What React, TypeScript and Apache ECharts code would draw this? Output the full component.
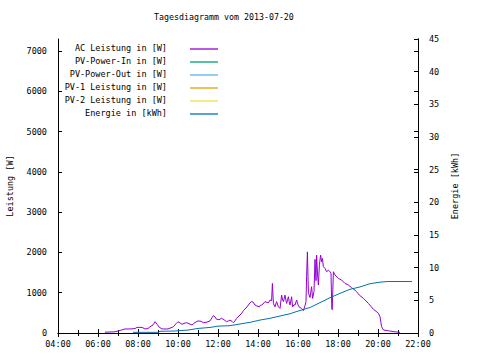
import React, { useEffect, useRef } from "react";
import * as echarts from "echarts";

const title = "Tagesdiagramm vom 2013-07-20";
const seriesNames = [
  "AC Leistung in [W]",
  "PV-Power-In in [W]",
  "PV-Power-Out in [W]",
  "PV-1 Leistung in [W]",
  "PV-2 Leistung in [W]",
  "Energie in [kWh]",
];
const seriesColors = ["#9400d3", "#009e73", "#56b4e9", "#e69f00", "#f0e442", "#0072b2"];

// AC Leistung (hour of day, W)
const acTime = [
  6.35, 6.6, 6.85, 7.0, 7.18, 7.35, 7.6, 7.85, 7.95, 8.2, 8.35, 8.5, 8.6, 8.75, 8.85, 8.95, 9.05, 9.2, 9.35, 9.5,
  9.65, 9.77, 9.9, 10.0, 10.1, 10.2, 10.3, 10.43, 10.55, 10.7, 10.85, 11.0, 11.15, 11.27, 11.4, 11.5, 11.6, 11.7,
  11.77, 11.85, 11.93, 12.05, 12.18, 12.3, 12.43, 12.52, 12.6, 12.7, 12.77, 12.85, 12.93, 13.0, 13.1, 13.2, 13.27,
  13.4, 13.52, 13.6, 13.68, 13.75, 13.85, 13.95, 14.07, 14.12, 14.18, 14.25, 14.35, 14.45, 14.52, 14.6, 14.68,
  14.72, 14.77, 14.85, 14.93, 15.02, 15.1, 15.18, 15.23, 15.27, 15.35, 15.4, 15.43, 15.52, 15.56, 15.6, 15.68,
  15.73, 15.8, 15.85, 15.93, 16.0, 16.05, 16.18, 16.27, 16.35, 16.4, 16.43, 16.47, 16.52, 16.6, 16.68, 16.73, 16.8,
  16.85, 16.9, 16.93, 16.98, 17.02, 17.07, 17.13, 17.18, 17.22, 17.27, 17.35, 17.43, 17.52, 17.6, 17.65, 17.69,
  17.71, 17.73, 17.77, 17.85, 18.02, 18.18, 18.35, 18.52, 18.68, 18.85, 18.93, 19.07, 19.27, 19.52, 19.77, 19.9,
  20.02, 20.1, 20.18, 20.27, 20.52, 20.7, 20.85, 21.1,
];
const acPower = [
  20, 25, 30, 50, 75, 100, 100, 110, 140, 140, 100, 110, 155, 200, 280, 220, 150, 100, 100, 100,
  130, 155, 230, 280, 250, 215, 240, 255, 230, 200, 260, 300, 290, 255, 265, 280, 300, 380,
  430, 400, 340, 330, 365, 330, 280, 300, 320, 290, 255, 300, 365, 400, 445, 500, 555,
  620, 695, 750, 780, 770, 695, 670, 650, 690, 695, 720, 780, 760, 750, 820, 800,
  1230, 735, 650, 780, 650, 610, 940, 820, 780, 940, 800, 735, 900, 780, 695, 900,
  650, 700, 695, 820, 700, 650, 610, 555, 680, 780, 1400, 2015, 1000, 880, 1150, 860, 1025,
  1830, 1300, 1935, 1440, 1190, 1690, 1935, 1770, 1850, 1645, 1605, 1520, 1560, 1520, 1480, 620,
  580, 900, 1520, 1440, 1355, 1315, 1230, 1190, 1125, 1065, 1025, 940, 860, 735, 590, 540,
  490, 405, 155, 75, 55, 40, 30, 15,
];

// Energie (hour of day, kWh)
const energyTime = [
  7.75, 9.0, 9.1, 9.8, 10.5, 11.0, 11.6, 12.0, 12.6, 13.1, 13.6, 14.1, 14.6, 15.1, 15.6, 16.1, 16.6, 17.1, 17.6,
  18.1, 18.6, 19.1, 19.6, 20.1, 20.45, 21.7,
];
const energyKWh = [
  0.1, 0.1, 0.26, 0.3, 0.45, 0.7, 0.85, 1.05, 1.12, 1.38, 1.63, 1.98, 2.25, 2.6, 2.95, 3.45, 3.9, 4.65, 5.4,
  6.07, 6.69, 7.05, 7.55, 7.78, 7.88, 7.88,
];

const FONT = "DejaVu Sans Mono";
const FS = 8.5;

export default function App() {
  const ref = useRef<HTMLDivElement>(null);
  useEffect(() => {
    if (!ref.current) return;
    const chart = echarts.init(ref.current, null, { renderer: "svg" });
    const txt = { fontFamily: FONT, fontSize: FS, color: "#000" };
    const black = { lineStyle: { color: "#000", width: 1 } };

    const legendGraphics: any[] = [];
    seriesNames.forEach((n, i) => {
      const y = 49 + 13 * i;
      legendGraphics.push({
        type: "text",
        x: 167,
        y: y - 1.5,
        style: { text: n, align: "right", verticalAlign: "middle", font: `${FS}px '${FONT}'`, fill: "#000" },
      });
      legendGraphics.push({
        type: "line",
        shape: { x1: 190, y1: y, x2: 218, y2: y },
        style: { stroke: seriesColors[i], lineWidth: 1.3 },
      });
    });

    const hourFmt = (v: number) => (v < 10 ? "0" : "") + v + ":00";
    const plainFmt = (v: number) => String(v);

    chart.setOption({
      animation: false,
      backgroundColor: "#fff",
      title: {
        text: title,
        left: 154,
        top: 13,
        padding: 0,
        textStyle: { fontFamily: FONT, fontSize: 8.3, fontWeight: "normal", color: "#000" },
      },
      grid: { left: 58, right: 62, top: 39, bottom: 27, containLabel: false, outerBoundsMode: "none" },
      xAxis: [
        {
          type: "value",
          min: 4,
          max: 22,
          interval: 2,
          position: "bottom",
          axisLine: { show: true, ...black },
          axisTick: { show: true, inside: true, length: 4, ...black },
          minorTick: { show: true, splitNumber: 2, length: 3, ...black },
          splitLine: { show: false },
          axisLabel: { ...txt, margin: 6, formatter: hourFmt },
        },
        {
          type: "value",
          min: 4,
          max: 22,
          interval: 2,
          position: "top",
          axisLine: { show: true, ...black },
          axisTick: { show: true, inside: true, length: 4, ...black },
          minorTick: { show: true, splitNumber: 2, length: 3, ...black },
          splitLine: { show: false },
          axisLabel: { show: false },
        },
      ],
      yAxis: [
        {
          type: "value",
          min: 0,
          max: 7300,
          interval: 1000,
          position: "left",
          name: "Leistung [W]",
          nameLocation: "middle",
          nameGap: 44,
          nameRotate: 90,
          nameTextStyle: txt,
          axisLine: { show: true, ...black },
          axisTick: { show: true, inside: true, length: 4, ...black },
          splitLine: { show: false },
          axisLabel: { ...txt, margin: 11, showMaxLabel: false, formatter: plainFmt },
        },
        {
          type: "value",
          min: 0,
          max: 45,
          interval: 5,
          position: "right",
          name: "Energie [kWh]",
          nameLocation: "middle",
          nameGap: 30,
          nameRotate: 90,
          nameTextStyle: txt,
          axisLine: { show: true, ...black },
          axisTick: { show: true, inside: true, length: 4, ...black },
          splitLine: { show: false },
          axisLabel: { ...txt, margin: 11, formatter: plainFmt },
        },
        {
          type: "value",
          min: 0,
          max: 7300,
          interval: 1000,
          position: "right",
          axisLine: { show: true, ...black },
          axisTick: { show: true, inside: true, length: 4, ...black },
          splitLine: { show: false },
          axisLabel: { show: false },
        },
      ],
      graphic: legendGraphics,
      series: [
        {
          name: seriesNames[0],
          type: "line",
          xAxisIndex: 0,
          yAxisIndex: 0,
          showSymbol: false,
          data: acTime.map((t, i) => [t, acPower[i]]),
          lineStyle: { color: seriesColors[0], width: 1 },
          itemStyle: { color: seriesColors[0] },
        },
        ...[1, 2, 3, 4].map((i) => ({
          name: seriesNames[i],
          type: "line",
          xAxisIndex: 0,
          yAxisIndex: 0,
          showSymbol: false,
          data: [],
          lineStyle: { color: seriesColors[i], width: 1 },
          itemStyle: { color: seriesColors[i] },
        })),
        {
          name: seriesNames[5],
          type: "line",
          xAxisIndex: 0,
          yAxisIndex: 1,
          showSymbol: false,
          data: energyTime.map((t, i) => [t, energyKWh[i]]),
          lineStyle: { color: seriesColors[5], width: 1 },
          itemStyle: { color: seriesColors[5] },
        },
      ],
    });
    return () => chart.dispose();
  }, []);
  return <div ref={ref} style={{ position: "fixed", left: 0, top: 0, width: 480, height: 360 }} />;
}
